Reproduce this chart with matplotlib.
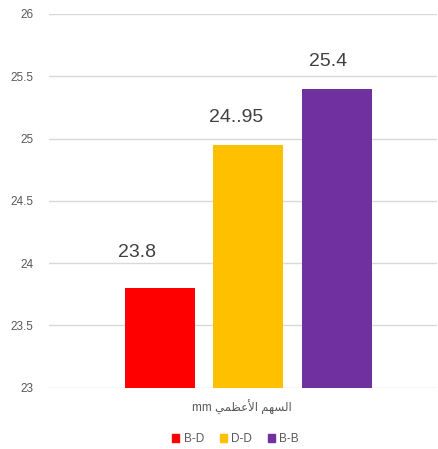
import matplotlib
matplotlib.use("Agg")
import numpy as np
import matplotlib.pyplot as plt
from matplotlib.patches import Patch

series = ["B-D", "D-D", "B-B"]
values = [23.8, 24.95, 25.4]
value_labels = ["23.8", "24..95", "25.4"]
colors = ["#ff0000", "#ffc000", "#7030a0"]
yticks = [23, 23.5, 24, 24.5, 25, 25.5, 26]
ytick_labels = ["23", "23.5", "24", "24.5", "25", "25.5", "26"]
# "السهم الأعظمي mm" in presentation forms, visual order (mpl 3.10 does no shaping)
xlabel = "mm \ufef2\ufee4\ufec8\ufecb\ufef7\ufe8d \ufee2\ufeec\ufeb4\ufedf\ufe8d"

plt.rcParams["font.family"] = ["Liberation Sans", "DejaVu Sans"]
grey = "#595959"

fig = plt.figure(figsize=(4.38, 4.49), dpi=100)
ax = fig.add_axes([49 / 438, 1 - 387.5 / 449, 388 / 438, 373.5 / 449])

x = np.arange(len(series))
bars = ax.bar(x, np.array(values) - 23, bottom=23, width=0.793, color=colors,
              zorder=3)

# data labels (moved by hand in the original)
offsets = [(-23, 27), (-12, 19), (-8, 19)]
for b, lab, off in zip(bars, value_labels, offsets):
    ax.annotate(lab, (b.get_x() + b.get_width() / 2, b.get_y() + b.get_height()),
                xytext=off, textcoords="offset pixels", ha="center", va="bottom",
                fontsize=14, color="#404040")

ax.set_ylim(23, 26)
ax.set_xlim(-1.256, 3.138)
ax.set_yticks(yticks)
ax.set_yticklabels(ytick_labels, fontsize=8.5, color=grey)
ax.set_xticks([])
ax.tick_params(axis="y", length=0, pad=11)
ax.grid(axis="y", color="#d9d9d9", linewidth=1, zorder=0)
for s in ax.spines.values():
    s.set_visible(False)

fig.text(241.5 / 438, 1 - 407 / 449, xlabel, ha="center", va="center",
         fontsize=8.5, color=grey, family=["Liberation Sans", "DejaVu Sans"])

handles = [Patch(color=c, label=s) for c, s in zip(colors, series)]
fig.legend(handles=handles, loc="center", bbox_to_anchor=(0.538, 0.022), ncol=3,
           frameon=False, fontsize=8.5, handlelength=0.6, handleheight=0.6,
           handletextpad=0.4, columnspacing=1.3, labelcolor=grey)

fig.savefig("out.png", dpi=100)
